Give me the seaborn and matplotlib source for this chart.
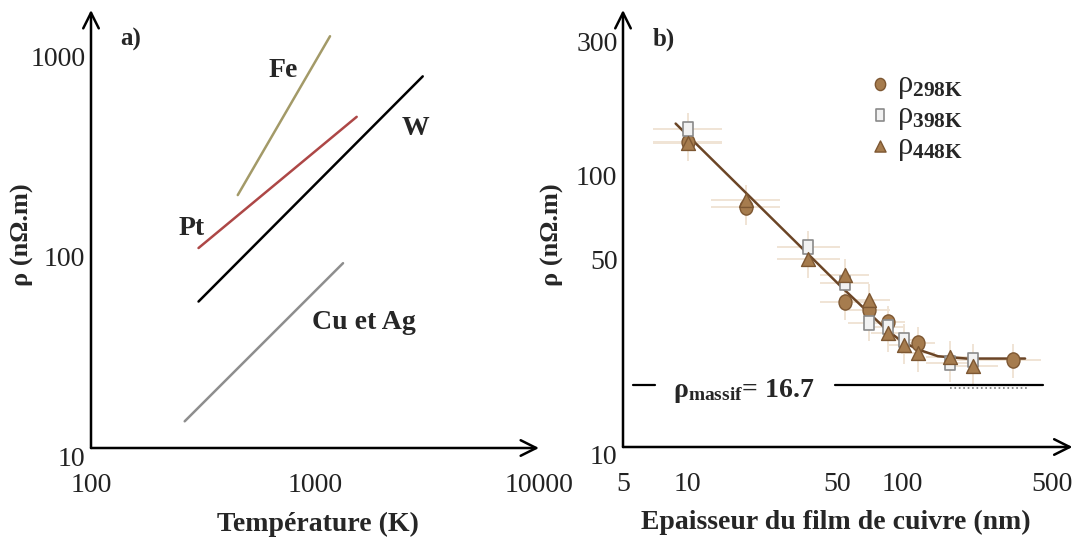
import numpy as np
import pandas as pd
import seaborn as sns
import matplotlib.pyplot as plt
from matplotlib.markers import MarkerStyle
from matplotlib.transforms import Affine2D, ScaledTranslation
from matplotlib.ticker import NullLocator

sns.set_theme(style="white")
plt.rcParams['font.family'] = ['Liberation Serif', 'DejaVu Serif']
plt.rcParams['mathtext.fontset'] = 'custom'
plt.rcParams['mathtext.rm'] = 'Liberation Serif'
plt.rcParams['mathtext.it'] = 'Liberation Serif:italic'
plt.rcParams['mathtext.bf'] = 'Liberation Serif:bold'

# --- panel a : resistivity vs temperature (straight lines in log-log)
metals = ["Fe", "Pt", "W", "Cu et Ag"]
temp_start = [452, 302, 302, 262]
temp_end = [1167, 1535, 3027, 1334]
rho_start = [184, 100, 54, 13.6]
rho_end = [1146, 453, 722, 84]
metal_colors = ["#a39a68", "#ad4746", "#000000", "#8e8e8e"]
# where each metal name is written
label_T = [722, 282, 2817, 1660]
label_rho = [773, 125, 394, 42.2]

# --- panel b : resistivity vs copper film thickness
thickness = [10, 18.7, 36.6, 54, 70, 86, 102, 119, 168, 215, 329]
rho_298 = [123, 72, np.nan, 33.0, 30.8, 28.0, np.nan, 23.5, np.nan, np.nan, 20.5]
rho_398 = [137, np.nan, 51.9, 38.5, 27.7, 26.9, 24.1, np.nan, 19.9, 20.5, np.nan]
rho_448 = [122, 76, 46.8, 41.1, 33.5, 25.5, 23.1, 21.6, 21.0, 19.4, np.nan]
x_err_factor = [1.45, 1.45, 1.4, 1.3, 1.25, 1.2, 1.2, 1.2, 1.3, 1.3, 1.35]
y_err_frac = [0.14] * 11
# fitted trend curve
fit_x = [8.8, 52, 85, 100, 119, 147, 200, 375]
fit_y = [143, 37.4, 26.2, 23.8, 22.3, 21.1, 20.7, 20.7]
rho_massif = 16.7

fig = plt.figure(figsize=(10.76, 5.37), dpi=100)
ax1 = fig.add_axes([91 / 1076, 89 / 537, 448 / 1076, 438 / 537])
ax2 = fig.add_axes([623 / 1076, 90 / 537, 449.5 / 1076, 437 / 537])

for t0, t1, r0, r1, c in zip(temp_start, temp_end, rho_start, rho_end, metal_colors):
    df = pd.DataFrame({"T": [t0, t1], "rho": [r0, r1]})
    sns.lineplot(data=df, x="T", y="rho", color=c, lw=1.8, ax=ax1)
for name, x, y in zip(metals, label_T, label_rho):
    ax1.text(x, y, name, fontsize=20, fontweight="bold", ha="center", va="center")

ax1.set_xscale("log")
ax1.set_yscale("log")
ax1.set_xlim(100, 10000)
ax1.set_ylim(10, 1550)
ax1.set_xticks([100, 1000, 10000])
ax1.set_xticklabels(["100", "1000", "10000"])
ax1.set_yticks([10, 100, 1000])
ax1.set_yticklabels(["10", "100", "1000"])
ax1.text(0.065, 0.933, "a)", transform=ax1.transAxes, fontsize=18, fontweight="bold",
         va="center")
ax1.set_xlabel("Température (K)", fontsize=20, fontweight="bold")
ax1.set_ylabel("ρ (nΩ.m)", fontsize=19, fontweight="bold")
ax1.xaxis.set_label_coords(0.507, -0.146)
ax1.yaxis.set_label_coords(-0.127, 0.486)

# panel b
t = np.array(thickness)
f = np.array(x_err_factor)
for series in (rho_448, rho_298, rho_398):
    r = np.array(series)
    ax2.errorbar(t, r, xerr=[t - t / f, t * f - t], yerr=r * np.array(y_err_frac),
                 fmt="none", ecolor="#f0e4d5", elinewidth=1.4, zorder=1)

sns.lineplot(x=fit_x, y=fit_y, sort=False, color="#6b4526", lw=1.8, ax=ax2, zorder=2)

oval = MarkerStyle("o", transform=Affine2D().scale(0.85, 1.0))
rect = MarkerStyle("s", transform=Affine2D().scale(0.67, 1.0))
sns.scatterplot(x=thickness, y=rho_298, marker=oval, s=120, color="#a67c4e",
                edgecolor="#7d5732", linewidth=1, ax=ax2, zorder=3, label="ρ$_{\\mathbf{298K}}$")
sns.scatterplot(x=thickness, y=rho_398, marker=rect, s=115, color="#f2f2f2",
                edgecolor="#8a8a8a", linewidth=1.2, ax=ax2, zorder=4, label="ρ$_{\\mathbf{398K}}$")
sns.scatterplot(x=thickness, y=rho_448, marker="^", s=100, color="#a67c4e",
                edgecolor="#7d5732", linewidth=1, ax=ax2, zorder=5, label="ρ$_{\\mathbf{448K}}$")

# bulk copper resistivity, line broken around its label
ytr = ax2.get_yaxis_transform()
ax2.plot([0.022, 0.071], [rho_massif, rho_massif], color="black", lw=1.6, transform=ytr)
ax2.plot([0.472, 0.934], [rho_massif, rho_massif], color="black", lw=1.6, transform=ytr)
ax2.plot([0.727, 0.899], [16.3, 16.3], color="#777777", lw=1.2, ls=":", transform=ytr)
ax2.text(0.111, 17.8, "ρ$_{\\mathregular{massif}}$= 16.7", transform=ytr,
         fontsize=20, fontweight="bold", va="top", ha="left")

ax2.set_xscale("log")
ax2.set_yscale("log")
ax2.set_xlim(5, 624)
ax2.set_ylim(10, 364)
ax2.set_xticks([5, 10, 50, 100, 500])
ax2.set_xticklabels(["5", "10", "50", "100", "500"])
ax2.set_yticks([10, 50, 100, 300])
ax2.set_yticklabels(["10", "50", "100", "300"])
ax2.text(0.067, 0.933, "b)", transform=ax2.transAxes, fontsize=18, fontweight="bold",
         va="center")
ax2.set_xlabel("Epaisseur du film de cuivre (nm)", fontsize=20, fontweight="bold")
ax2.set_ylabel("ρ (nΩ.m)", fontsize=19, fontweight="bold")
ax2.xaxis.set_label_coords(0.474, -0.144)
ax2.yaxis.set_label_coords(-0.131, 0.486)
ax2.legend(loc="upper left", bbox_to_anchor=(0.51, 0.891), frameon=False, fontsize=22,
           handletextpad=0.05, labelspacing=0.0, borderaxespad=0, handlelength=1.0,
           markerscale=0.8)

shift_down = ScaledTranslation(0, -8 / 100, fig.dpi_scale_trans)
for ax in (ax1, ax2):
    for sp in ax.spines.values():
        sp.set_visible(False)
    ax.xaxis.set_minor_locator(NullLocator())
    ax.yaxis.set_minor_locator(NullLocator())
    ax.tick_params(axis="x", length=0, labelsize=20, pad=18, labelcolor="#222222")
    ax.tick_params(axis="y", length=0, labelsize=20, pad=4, labelcolor="#222222")
    for lab in ax.get_yticklabels():
        lab.set_transform(lab.get_transform() + shift_down)
    ax.annotate("", xy=(0, 1), xytext=(0, 0), xycoords="axes fraction",
                arrowprops=dict(arrowstyle="->", lw=1.8, color="black", mutation_scale=28,
                                shrinkA=0, shrinkB=0), annotation_clip=False)
    ax.annotate("", xy=(1, 0), xytext=(0, 0), xycoords="axes fraction",
                arrowprops=dict(arrowstyle="->", lw=1.8, color="black", mutation_scale=28,
                                shrinkA=0, shrinkB=0), annotation_clip=False)

fig.savefig("out.png", dpi=100)
